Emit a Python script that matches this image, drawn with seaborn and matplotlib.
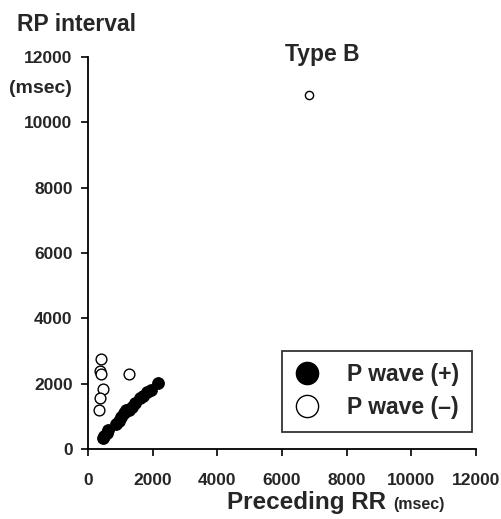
import matplotlib
matplotlib.use("Agg")
import matplotlib.pyplot as plt
from matplotlib.lines import Line2D
import seaborn as sns
import pandas as pd

# Data
pos_x = [455, 505, 580, 630, 870, 970, 1030, 1125, 1170, 1280, 1355, 1460, 1610, 1715, 1840, 1940, 2180]
pos_y = [330, 400, 500, 585, 770, 870, 980, 1100, 1200, 1180, 1290, 1410, 1560, 1630, 1740, 1790, 2025]
neg_x = [405, 380, 400, 455, 390, 350, 1270]
neg_y = [2750, 2400, 2300, 1850, 1560, 1200, 2280]
typeb_x = [6830]
typeb_y = [10850]

x_ticks = [0, 2000, 4000, 6000, 8000, 10000, 12000]
y_ticks = [0, 2000, 4000, 6000, 8000, 10000, 12000]
labels = ["P wave (+)", "P wave (\u2013)"]

sns.set_theme(style="ticks")
plt.rcParams["font.family"] = ["Liberation Sans", "DejaVu Sans"]
plt.rcParams["font.weight"] = "bold"

fig = plt.figure(figsize=(5.02, 5.19), dpi=100)
ax = fig.add_axes([0.175, 0.135, 0.773, 0.755])

df_pos = pd.DataFrame({"x": pos_x, "y": pos_y})
df_neg = pd.DataFrame({"x": neg_x, "y": neg_y})
df_b = pd.DataFrame({"x": typeb_x, "y": typeb_y})

sns.scatterplot(data=df_pos, x="x", y="y", ax=ax, color="black", edgecolor="black",
                s=70, linewidth=0.8, legend=False, zorder=3)
sns.scatterplot(data=df_neg, x="x", y="y", ax=ax, color="white", edgecolor="black",
                s=60, linewidth=1.0, legend=False, zorder=3)
sns.scatterplot(data=df_b, x="x", y="y", ax=ax, color="white", edgecolor="black",
                s=35, linewidth=1.0, legend=False, zorder=3)

ax.set_xlim(0, 12000)
ax.set_ylim(0, 12000)
ax.set_xticks(x_ticks)
ax.set_yticks(y_ticks)
ax.set_xticklabels([str(t) for t in x_ticks], fontsize=12.5, fontweight="bold")
ax.set_yticklabels([str(t) for t in y_ticks], fontsize=12.5, fontweight="bold")
ax.tick_params(axis="both", direction="out", length=5, width=1.2, color="black")
ax.tick_params(axis="x", pad=12)
ax.tick_params(axis="y", pad=6)
for s in ["top", "right"]:
    ax.spines[s].set_visible(False)
for s in ["left", "bottom"]:
    ax.spines[s].set_color("black")
    ax.spines[s].set_linewidth(1.3)
ax.set_xlabel("")
ax.set_ylabel("")

fig.text(0.034, 0.952, "RP interval", fontsize=16.5, fontweight="bold", ha="left", va="center")
fig.text(0.018, 0.830, "(msec)", fontsize=14, fontweight="bold", ha="left", va="center")
fig.text(0.643, 0.895, "Type B", fontsize=16.5, fontweight="bold", ha="center", va="center")
base_y = 0.019
t1 = fig.text(0.452, base_y, "Preceding RR", fontsize=17.5, fontweight="bold",
              ha="left", va="baseline")
ax.annotate("(msec)", xy=(1, base_y), xycoords=(t1, "figure fraction"),
            xytext=(5, 0), textcoords="offset points",
            fontsize=11.5, fontweight="bold", ha="left", va="baseline",
            annotation_clip=False)

handles = [
    Line2D([], [], marker="o", linestyle="", markersize=16, markerfacecolor="black",
           markeredgecolor="black"),
    Line2D([], [], marker="o", linestyle="", markersize=16, markerfacecolor="white",
           markeredgecolor="black", markeredgewidth=1.0),
]
leg = ax.legend(handles, labels, loc="lower right", bbox_to_anchor=(0.99, 0.043),
                borderaxespad=0.0, frameon=True, fancybox=False,
                prop={"size": 16.5, "weight": "bold"},
                handlelength=1.1, handletextpad=1.2, borderpad=0.55, labelspacing=0.45)
leg.get_frame().set_edgecolor("black")
leg.get_frame().set_linewidth(1.3)

fig.savefig("out.png", dpi=100)
